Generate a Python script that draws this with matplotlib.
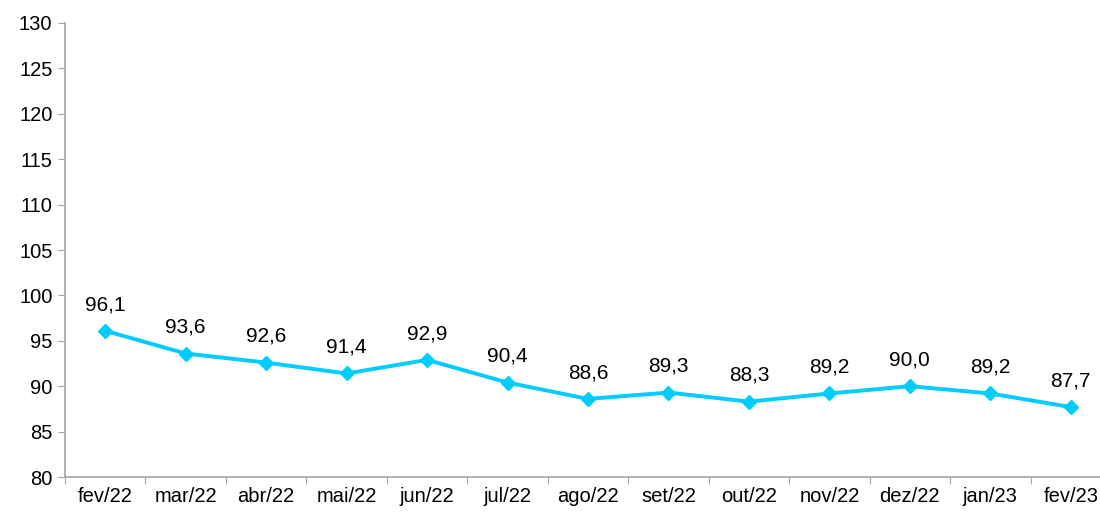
import matplotlib
matplotlib.use("Agg")
import matplotlib.pyplot as plt

months = ["fev/22", "mar/22", "abr/22", "mai/22", "jun/22", "jul/22", "ago/22",
          "set/22", "out/22", "nov/22", "dez/22", "jan/23", "fev/23"]
values = [96.1, 93.6, 92.6, 91.4, 92.9, 90.4, 88.6, 89.3, 88.3, 89.2, 90.0, 89.2, 87.7]
y_ticks = list(range(80, 131, 5))

plt.rcParams['font.family'] = ['Liberation Sans', 'DejaVu Sans']

fig = plt.figure(figsize=(11, 5.13), dpi=100)
ax = fig.add_axes([65 / 1100, 36 / 513, 1046 / 1100, 454 / 513])

x = list(range(len(months)))
ax.plot(x, values, color="#00CCFF", lw=2.8, marker="D", ms=7.5, zorder=3)
for xi, v in zip(x, values):
    ax.annotate(f"{v:.1f}".replace(".", ","), (xi, v), xytext=(0, 12),
                textcoords="offset points", ha="center", va="bottom", fontsize=15)

ax.set_xlim(-0.5, len(months) - 0.5)
ax.set_ylim(80, 130)
ax.set_yticks(y_ticks)
ax.set_yticklabels([str(t) for t in y_ticks], fontsize=14.5)
ax.set_xticks([i - 0.5 for i in range(len(months) + 1)])
ax.set_xticklabels([])
ax.set_xticks(x, minor=True)
ax.set_xticklabels(months, minor=True, fontsize=14.5)
ax.tick_params(axis="x", which="minor", length=0, pad=7)
ax.tick_params(axis="x", which="major", length=5, color="#A6A6A6", direction="out")
ax.tick_params(axis="y", length=5, color="#A6A6A6", direction="out", pad=4)

for s in ["top", "right"]:
    ax.spines[s].set_visible(False)
for s in ["left", "bottom"]:
    ax.spines[s].set_color("#A6A6A6")
    ax.spines[s].set_linewidth(1.2)

fig.savefig("out.png", dpi=100)
